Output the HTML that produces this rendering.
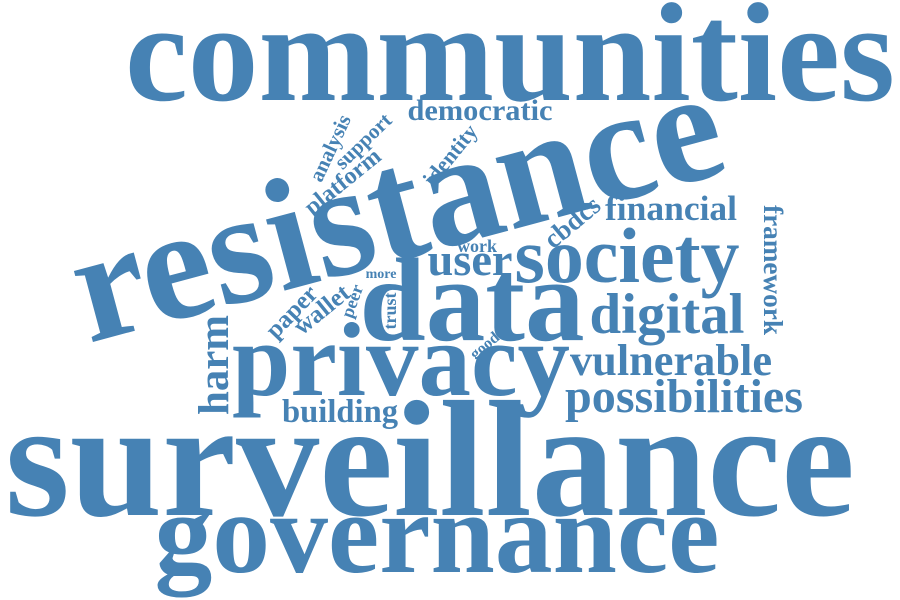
<!DOCTYPE html>
<html><head><meta charset="utf-8"><style>
html,body{margin:0;padding:0;background:#fff;}
svg{display:block;}
text{font-family:"Liberation Serif",serif;font-weight:bold;fill:#4682b4;}
</style></head><body>
<svg width="900" height="600" viewBox="0 0 900 600">
<text x="510" y="100" font-size="141" text-anchor="middle" textLength="770" lengthAdjust="spacingAndGlyphs">communities</text>
<text x="410" y="257" font-size="160" text-anchor="middle" textLength="665" lengthAdjust="spacingAndGlyphs" transform="rotate(-15 410 257)">resistance</text>
<text x="472" y="340" font-size="119" text-anchor="middle" textLength="225" lengthAdjust="spacingAndGlyphs">data</text>
<text x="401" y="395" font-size="105" text-anchor="middle" textLength="338" lengthAdjust="spacingAndGlyphs">privacy</text>
<text x="430" y="515" font-size="166" text-anchor="middle" textLength="850" lengthAdjust="spacingAndGlyphs">surveillance</text>
<text x="437" y="572" font-size="115" text-anchor="middle" textLength="565" lengthAdjust="spacingAndGlyphs">governance</text>
<text x="627" y="282" font-size="78" text-anchor="middle" textLength="225" lengthAdjust="spacingAndGlyphs">society</text>
<text x="667" y="333" font-size="57" text-anchor="middle" textLength="155" lengthAdjust="spacingAndGlyphs">digital</text>
<text x="671" y="220" font-size="35" text-anchor="middle" textLength="132" lengthAdjust="spacingAndGlyphs">financial</text>
<text x="470" y="275" font-size="46" text-anchor="middle" textLength="85" lengthAdjust="spacingAndGlyphs">user</text>
<text x="480" y="120" font-size="30" text-anchor="middle" textLength="145" lengthAdjust="spacingAndGlyphs">democratic</text>
<text x="671" y="375" font-size="44" text-anchor="middle" textLength="202" lengthAdjust="spacingAndGlyphs">vulnerable</text>
<text x="684" y="412" font-size="48" text-anchor="middle" textLength="238" lengthAdjust="spacingAndGlyphs">possibilities</text>
<text x="340" y="422" font-size="33" text-anchor="middle" textLength="116" lengthAdjust="spacingAndGlyphs">building</text>
<text x="228" y="365" font-size="43" text-anchor="middle" textLength="100" lengthAdjust="spacingAndGlyphs" transform="rotate(-90 228 365)">harm</text>
<text x="764" y="270" font-size="27" text-anchor="middle" textLength="130" lengthAdjust="spacingAndGlyphs" transform="rotate(90 764 270)">framework</text>
<text x="572" y="222" font-size="27" text-anchor="middle" dominant-baseline="central" transform="rotate(-40 572 222)">cbdcs</text>
<text x="450" y="155" font-size="22" text-anchor="middle" dominant-baseline="central" transform="rotate(-51 450 155)">identity</text>
<text x="363" y="141" font-size="21" text-anchor="middle" dominant-baseline="central" transform="rotate(-44 363 141)">support</text>
<text x="343" y="182" font-size="24" text-anchor="middle" dominant-baseline="central" transform="rotate(-39 343 182)">platform</text>
<text x="330" y="148" font-size="21" text-anchor="middle" dominant-baseline="central" transform="rotate(-65 330 148)">analysis</text>
<text x="477" y="252" font-size="18" text-anchor="middle">work</text>
<text x="381" y="278" font-size="14" text-anchor="middle">more</text>
<text x="396" y="311" font-size="18" text-anchor="middle" transform="rotate(-90 396 311)">trust</text>
<text x="352" y="301" font-size="18" text-anchor="middle" dominant-baseline="central" transform="rotate(-70 352 301)">peer</text>
<text x="322" y="310" font-size="25" text-anchor="middle" dominant-baseline="central" transform="rotate(-39 322 310)">wallet</text>
<text x="292" y="312" font-size="25" text-anchor="middle" dominant-baseline="central" transform="rotate(-46 292 312)">paper</text>
<text x="485" y="346" font-size="16" text-anchor="middle" dominant-baseline="central" transform="rotate(-40 485 346)">good</text>
</svg>
</body></html>
